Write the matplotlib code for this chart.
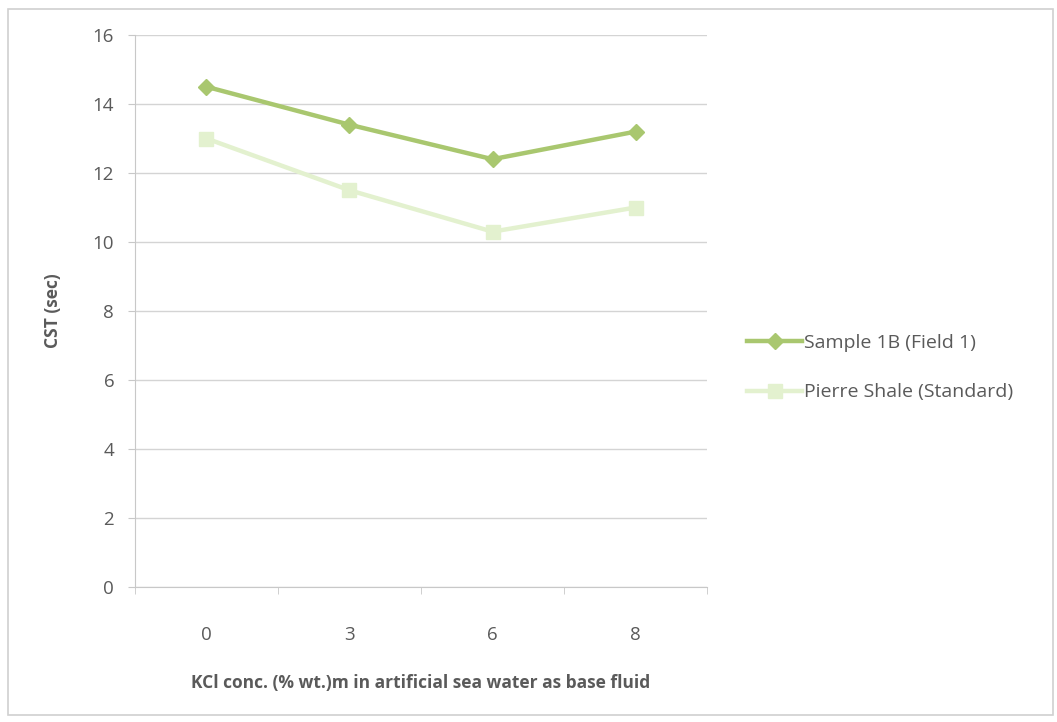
import matplotlib.pyplot as plt
from matplotlib.patches import Rectangle

# KCl concentration categories
categories = ["0", "3", "6", "8"]
sample_1b = [14.5, 13.4, 12.4, 13.2]
pierre_shale = [13.0, 11.5, 10.3, 11.0]
y_ticks = [0, 2, 4, 6, 8, 10, 12, 14, 16]

plt.rcParams['font.family'] = ['Open Sans', 'DejaVu Sans']
text_col = '#5a5a5a'

fig = plt.figure(figsize=(10.57, 7.22), dpi=100)
ax = fig.add_axes([0.1277, 0.187, 0.5412, 0.7645])

# outer chart border
fig.patches.append(Rectangle((0.008, 0.01), 0.988, 0.978, transform=fig.transFigure,
                             fill=False, edgecolor='#d0d0d0', lw=1.2))

x = range(len(categories))
ax.plot(x, sample_1b, color='#a9c76f', lw=3.2, marker='D', ms=8,
        mec='#a9c76f', mfc='#a9c76f', label='Sample 1B (Field 1)', zorder=3)
ax.plot(x, pierre_shale, color='#e3f1cf', lw=3.2, marker='s', ms=10,
        mec='#e3f1cf', mfc='#e3f1cf', label='Pierre Shale (Standard)', zorder=2)

ax.set_xlim(-0.5, 3.5)
ax.set_ylim(0, 16)
ax.set_yticks(y_ticks)
ax.set_xticks(list(x))
ax.set_xticklabels(categories)
ax.set_xticks([-0.5, 0.5, 1.5, 2.5, 3.5], minor=True)
ax.tick_params(axis='x', which='major', length=0, pad=28, labelsize=13.5, labelcolor=text_col)
ax.tick_params(axis='x', which='minor', length=5, color='#c8c8c8', direction='out')
ax.tick_params(axis='y', length=5, color='#c8c8c8', pad=10, labelsize=13.5, labelcolor=text_col)

ax.grid(axis='y', color='#d4d4d4', lw=1)
ax.set_axisbelow(True)
for s in ['top', 'right']:
    ax.spines[s].set_visible(False)
for s in ['left', 'bottom']:
    ax.spines[s].set_color('#c8c8c8')

ax.set_ylabel('CST (sec)', fontsize=12.5, fontweight='bold', color=text_col, labelpad=22)
ax.set_xlabel('KCl conc. (% wt.)m in artificial sea water as base fluid', fontsize=12.5,
              fontweight='bold', color=text_col, labelpad=22)

ax.legend(loc='center left', bbox_to_anchor=(1.04, 0.397), frameon=False, fontsize=14,
          labelcolor=text_col, handlelength=2.8, handletextpad=0.1, labelspacing=1.6)

fig.savefig('out.png', dpi=100)
